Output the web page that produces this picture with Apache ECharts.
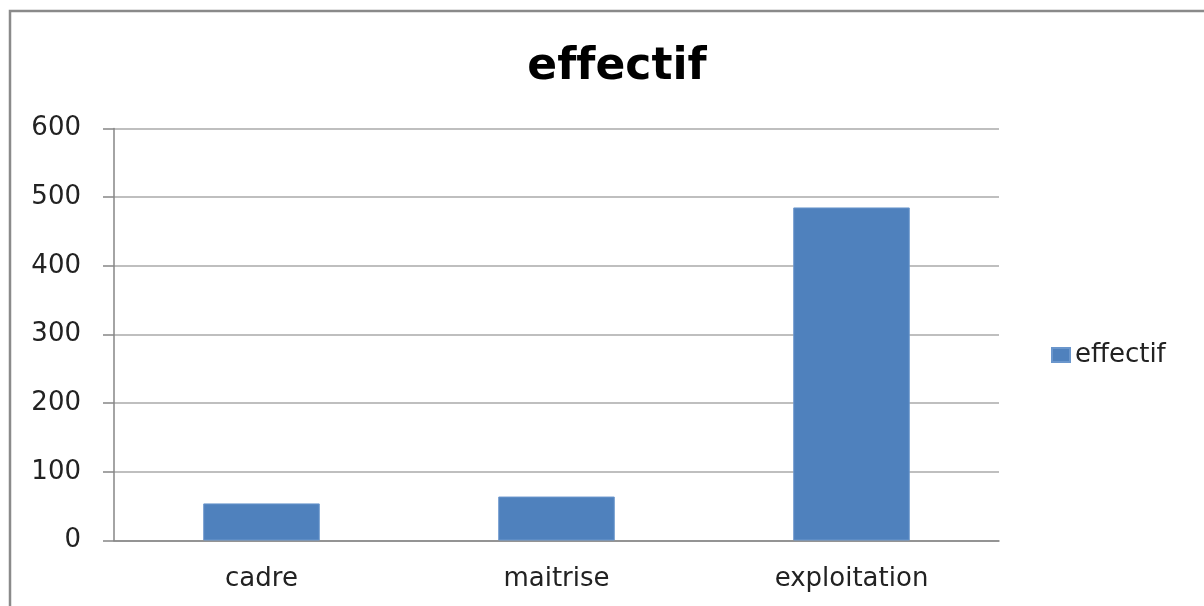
<!DOCTYPE html>
<html>
<head>
<meta charset="utf-8">
<script src="https://cdn.jsdelivr.net/npm/echarts@6/dist/echarts.min.js"></script>
<style>
html,body{margin:0;padding:0;background:#fff;}
#chart{width:1204px;height:606px;}
</style>
</head>
<body>
<div id="chart"></div>
<script>
var categories = ['cadre', 'maitrise', 'exploitation'];
var seriesName = 'effectif';
var values = [54, 64, 485];
var yTicks = [0, 100, 200, 300, 400, 500, 600];
var titleText = 'ef\u200Cfectif';

var chart = echarts.init(document.getElementById('chart'));
var font = 'DejaVu Sans';
chart.setOption({
  animation: false,
  backgroundColor: '#fff',
  title: {
    text: titleText,
    left: 612,
    textAlign: 'center',
    top: 41,
    textStyle: { fontFamily: font, fontSize: 44, fontWeight: 'bold', color: '#000' }
  },
  legend: {
    data: [seriesName],
    left: 1046,
    top: 337,
    itemWidth: 18,
    itemHeight: 14,
    itemGap: 6,
    icon: 'rect',
    textStyle: { fontFamily: font, fontSize: 26, color: '#222' }
  },
  graphic: [{
    type: 'rect',
    shape: { x: 10, y: 11, width: 1400, height: 800 },
    style: { fill: 'none', stroke: '#8a8a8a', lineWidth: 2.5 },
    silent: true
  }],
  grid: { left: 114, right: 205, top: 128.5, bottom: 65.5 },
  xAxis: {
    type: 'category',
    data: categories,
    axisLine: { lineStyle: { color: '#868686', width: 1.5 } },
    axisTick: { length: 7, lineStyle: { color: '#868686', width: 1.5 } },
    axisLabel: { fontFamily: font, fontSize: 26, color: '#222', margin: 26 }
  },
  yAxis: {
    type: 'value',
    min: yTicks[0],
    max: yTicks[yTicks.length - 1],
    interval: yTicks[1] - yTicks[0],
    axisLine: { show: true, lineStyle: { color: '#868686', width: 1.5 } },
    axisTick: { show: true, length: 11, lineStyle: { color: '#868686', width: 1.5 } },
    axisLabel: { fontFamily: font, fontSize: 26, color: '#222', margin: 33 },
    splitLine: { lineStyle: { color: '#bfbfbf', width: 2 } }
  },
  series: [{
    name: seriesName,
    type: 'bar',
    data: values,
    barWidth: '39.5%',
    itemStyle: { color: '#4F81BD', borderColor: '#6a96cc', borderWidth: 1 }
  }]
});
</script>
</body>
</html>
